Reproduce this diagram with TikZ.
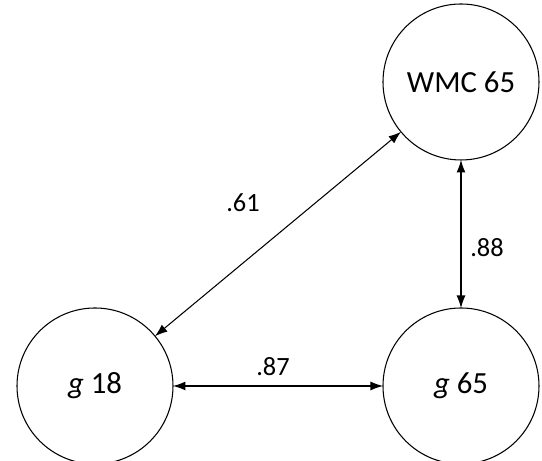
\documentclass[tikz,border=0pt]{standalone}
\usepackage{fontspec}
\setmainfont{Carlito}
\usepackage{tikz}
\usetikzlibrary{arrows.meta}

\begin{document}
\begin{tikzpicture}[scale=1]
	\tikzset{latent/.style = {draw, circle, minimum size=3.12cm, inner sep=0pt, outer sep=0pt, line width=.6pt, font=\fontsize{17.5}{20}\selectfont}}
	\tikzset{corr/.style={{Latex[length=2.5mm,width=1.8mm]}-{Latex[length=2.5mm,width=1.8mm]}, line width=.6pt}}
	\tikzset{coef/.style={font=\fontsize{15}{18}\selectfont}}
	\useasboundingbox (0,0) rectangle (10.84,9.22);

	% vertices
	\node[latent] (wmc65) at (9.22,7.58) {WMC 65};
	\node[latent] (g18) at (1.9,1.5) {\textit{g} 18};
	\node[latent] (g65) at (9.22,1.5) {\textit{g} 65};

	% edges
	\draw[corr] (g18) to (wmc65);
	\draw[corr] (wmc65) to (g65);
	\draw[corr] (g18) to (g65);

	% labels
	\node[coef] (r61) at (4.86,5.16) {.61};
	\node[coef] (r88) at (9.74,4.26) {.88};
	\node[coef] (r87) at (5.46,1.88) {.87};
\end{tikzpicture}
\end{document}
